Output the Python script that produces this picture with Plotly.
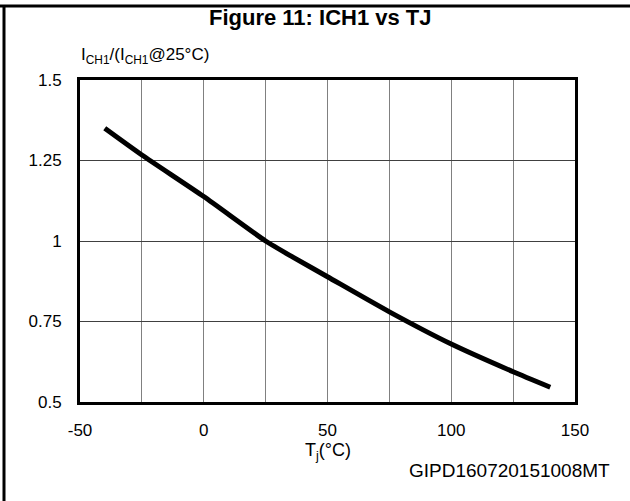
import plotly.graph_objects as go

# Data
tj = [-40, -25, 0, 25, 36, 50, 75, 100, 125, 140]
ratio = [1.35, 1.267, 1.138, 1.0, 0.95, 0.889, 0.78, 0.68, 0.594, 0.546]

x_tickvals = [-50, 0, 50, 100, 150]
x_ticktext = ["-50", "0", "50", "100", "150"]
y_tickvals = [0.5, 0.75, 1.0, 1.25, 1.5]
y_ticktext = ["0.5", "0.75", "1", "1.25", "1.5"]

W, H = 630, 501
L, R, T, B = 80, 575, 80, 402  # plot area in px


def px(xp):
    return (xp - L) / (R - L)


def py(yp):
    return (B - yp) / (B - T)


NARROW = "Liberation Sans Narrow, Arial Narrow, Liberation Sans, Arial, sans-serif"
ARIAL = "Liberation Sans, Arial, sans-serif"

fig = go.Figure()
fig.add_trace(go.Scatter(x=tj, y=ratio, mode="lines",
                         line=dict(color="black", width=5, shape="spline", smoothing=0.6),
                         showlegend=False, hoverinfo="skip"))

fig.update_layout(
    width=W, height=H, autosize=False,
    margin=dict(l=L, r=W - R, t=T, b=H - B, pad=0),
    paper_bgcolor="white", plot_bgcolor="white",
    showlegend=False,
    xaxis=dict(range=[-50, 150], tickvals=x_tickvals, ticktext=x_ticktext,
               showgrid=True, gridcolor="#808080", gridwidth=1,
               minor=dict(dtick=25, tick0=-50, showgrid=True, gridcolor="#808080", gridwidth=1),
               showline=True, linecolor="black", linewidth=3, mirror=True,
               ticks="outside", ticklen=11, tickcolor="rgba(0,0,0,0)",
               tickfont=dict(family=NARROW, size=17, color="black"),
               zeroline=False, fixedrange=True),
    yaxis=dict(range=[0.5, 1.5], tickvals=y_tickvals, ticktext=y_ticktext,
               showgrid=True, gridcolor="#404040", gridwidth=1,
               showline=True, linecolor="black", linewidth=3, mirror=True,
               ticks="outside", ticklen=12, tickcolor="rgba(0,0,0,0)",
               tickfont=dict(family=NARROW, size=17, color="black"),
               zeroline=False, fixedrange=True),
)

# Outer frame (top and left edges only)
fig.add_shape(type="line", xref="paper", yref="paper",
              x0=px(0), x1=px(W), y0=py(6), y1=py(6),
              line=dict(color="black", width=3))
fig.add_shape(type="line", xref="paper", yref="paper",
              x0=px(4), x1=px(4), y0=py(6), y1=py(H),
              line=dict(color="black", width=3))

# Title
fig.add_annotation(text="<b>Figure 11: ICH1 vs TJ</b>", xref="paper", yref="paper",
                   x=px(320), y=py(18), xanchor="center", yanchor="middle", showarrow=False,
                   font=dict(family=ARIAL, size=22, color="black"))
# Y-axis label
fig.add_annotation(text="I<sub>CH1</sub>/(I<sub>CH1</sub>@25°C)", xref="paper", yref="paper",
                   x=px(79), y=py(56), xanchor="left", yanchor="middle", showarrow=False,
                   font=dict(family=NARROW, size=17, color="black"))
# X-axis label
fig.add_annotation(text="T<sub>j</sub>(°C)", xref="paper", yref="paper",
                   x=px(328), y=py(451), xanchor="center", yanchor="middle", showarrow=False,
                   font=dict(family=NARROW, size=18, color="black"))
# Document code
fig.add_annotation(text="GIPD160720151008MT", xref="paper", yref="paper",
                   x=px(612), y=py(470), xanchor="right", yanchor="middle", showarrow=False,
                   font=dict(family=ARIAL, size=19, color="black"))

fig.write_html("out.html",
               config={"displayModeBar": False, "staticPlot": True},
               post_script="document.body.style.margin='0';document.body.style.overflow='hidden';")
